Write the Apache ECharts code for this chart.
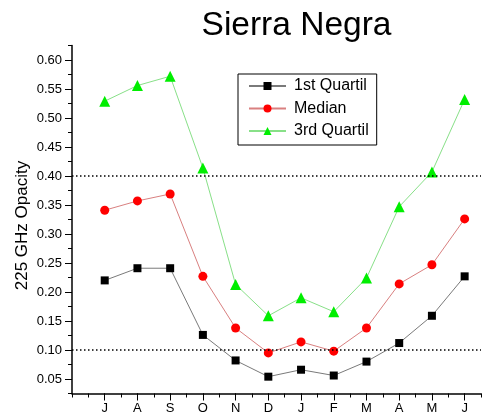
<!DOCTYPE html>
<html>
<head>
<meta charset="utf-8">
<script src="https://cdn.jsdelivr.net/npm/echarts@6/dist/echarts.min.js"></script>
<style>html,body{margin:0;padding:0;background:#fff}#c{width:488px;height:416px}</style>
</head>
<body>
<div id="c"></div>
<script>
var months = ['J','A','S','O','N','D','J','F','M','A','M','J'];
var monthPos = [1,2,3,4,5,6,7,8,9,10,11,12];
var q1 = [0.220,0.241,0.241,0.126,0.082,0.054,0.066,0.056,0.080,0.112,0.159,0.227];
var median = [0.341,0.357,0.369,0.227,0.138,0.095,0.114,0.098,0.138,0.214,0.247,0.326];
var q3 = [0.529,0.556,0.572,0.414,0.213,0.159,0.190,0.166,0.224,0.347,0.407,0.532];
var yTicks = [0.05,0.10,0.15,0.20,0.25,0.30,0.35,0.40,0.45,0.50,0.55,0.60];
var refLines = [0.40, 0.10];

function pairs(arr){ return arr.map(function(v,i){ return [monthPos[i], v]; }); }

var FONT = 'Liberation Sans, Arial, sans-serif';
var chart = echarts.init(document.getElementById('c'), null, {renderer:'canvas'});
var axisLine = {show:true, lineStyle:{color:'#000', width:1.5}};
var option = {
  backgroundColor:'#fff',
  animation:false,
  title:{text:'Sierra Negra', left:291.5, top:4, textAlign:'center',
    textStyle:{fontSize:33.5, fontWeight:'normal', color:'#000', fontFamily:FONT}},
  legend:{
    orient:'vertical', left:238, top:74,
    padding:[4,8,6,10], itemGap:6.5, itemWidth:37, itemHeight:10,
    borderColor:'#000', borderWidth:1, backgroundColor:'#fff',
    textStyle:{fontSize:16, color:'#000', fontFamily:FONT, padding:[0,0,0,3]},
    data:['1st Quartil','Median','3rd Quartil']
  },
  grid:{left:72, right:7, top:45.5, bottom:22.5, containLabel:false},
  xAxis:[
    {type:'value', min:0, max:12.5, interval:0.5, position:'bottom',
     axisLine:axisLine, axisTick:{show:true, length:4, lineStyle:{color:'#000', width:1}},
     axisLabel:{show:false}, splitLine:{show:false}},
    {type:'value', min:0, max:12.5, position:'bottom',
     axisLine:{show:false},
     axisTick:{show:true, length:7, customValues:monthPos, lineStyle:{color:'#000', width:1}},
     axisLabel:{show:true, customValues:monthPos, margin:8, fontSize:13, color:'#000', fontFamily:FONT,
       formatter:function(v){ var i = monthPos.indexOf(Math.round(v)); return i>=0 ? months[i] : ''; }},
     splitLine:{show:false}}
  ],
  yAxis:[
    {type:'value', min:0.025, max:0.625, interval:0.025, position:'left',
     axisLine:axisLine, axisTick:{show:true, length:4, lineStyle:{color:'#000', width:1}},
     axisLabel:{show:false}, splitLine:{show:false},
     name:'225 GHz Opacity', nameLocation:'middle', nameGap:41, nameRotate:90,
     nameTextStyle:{fontSize:17, color:'#000', fontFamily:FONT, padding:[0,0,0,-12]}},
    {type:'value', min:0.025, max:0.625, position:'left',
     axisLine:{show:false},
     axisTick:{show:true, length:7, customValues:yTicks, lineStyle:{color:'#000', width:1}},
     axisLabel:{show:true, customValues:yTicks, margin:10, fontSize:13, color:'#000', fontFamily:FONT,
       formatter:function(v){ return v.toFixed(2); }},
     splitLine:{show:false}}
  ],
  series:[
    {name:'1st Quartil', type:'line', data:pairs(q1), symbol:'rect', symbolSize:8,
     lineStyle:{color:'#7a7a7a', width:1}, itemStyle:{color:'#000'},
     markLine:{silent:true, symbol:['none','none'], label:{show:false},
       lineStyle:{color:'#000', type:[1.5,2.5], width:1.5},
       data:refLines.map(function(v){ return {yAxis:v}; })}},
    {name:'Median', type:'line', data:pairs(median), symbol:'circle', symbolSize:9,
     lineStyle:{color:'#d98080', width:1}, itemStyle:{color:'#ff0000'}},
    {name:'3rd Quartil', type:'line', data:pairs(q3), symbol:'triangle', symbolSize:11,
     lineStyle:{color:'#88e088', width:1}, itemStyle:{color:'#00ee00'}}
  ]
};
chart.setOption(option);
</script>
</body>
</html>
